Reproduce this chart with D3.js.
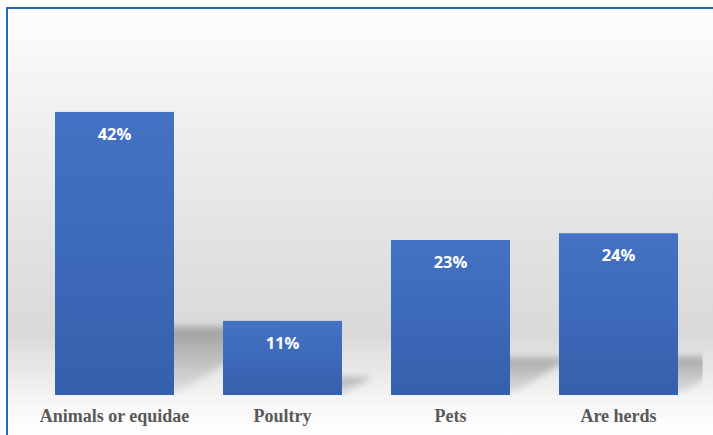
<!DOCTYPE html>
<html>
<head>
<meta charset="utf-8">
<script src="https://cdn.jsdelivr.net/npm/d3@7"></script>
<style>
  html, body { margin: 0; padding: 0; background: #ffffff; }
  svg { display: block; }
</style>
</head>
<body>
<svg id="chart" width="713" height="435"></svg>
<script>
// Share of respondents by animal type
const categories = ["Animals or equidae", "Poultry", "Pets", "Are herds"];
const shares = [42, 11, 23, 24];
const valueLabels = ["42%", "11%", "23%", "24%"];

const W = 713, H = 435;
const svg = d3.select("#chart");
const defs = svg.append("defs");

// Chart background: light at the top, grey band low down, white again under the baseline
const bg = defs.append("linearGradient")
  .attr("id", "bgGrad").attr("gradientUnits", "userSpaceOnUse")
  .attr("x1", 0).attr("x2", 0).attr("y1", 8).attr("y2", H);
[[0, "#fefefe"], [0.25, "#f0f0f0"], [0.55, "#e2e2e2"], [0.76, "#d9d9d9"],
 [0.88, "#eeeeee"], [0.93, "#f8f8f8"], [1, "#ffffff"]]
  .forEach(([o, c]) => bg.append("stop").attr("offset", o).attr("stop-color", c));

// Bar fill
const barGrad = defs.append("linearGradient")
  .attr("id", "barGrad").attr("x1", 0).attr("x2", 0).attr("y1", 0).attr("y2", 1);
barGrad.append("stop").attr("offset", 0).attr("stop-color", "#4472c4");
barGrad.append("stop").attr("offset", 1).attr("stop-color", "#3560ad");

// Perspective shadow fill, fading towards the floor
const shGrad = defs.append("linearGradient")
  .attr("id", "shGrad").attr("x1", 0).attr("x2", 0).attr("y1", 0).attr("y2", 1);
shGrad.append("stop").attr("offset", 0).attr("stop-color", "#000").attr("stop-opacity", 0.26);
shGrad.append("stop").attr("offset", 1).attr("stop-color", "#000").attr("stop-opacity", 0.06);

defs.append("filter").attr("id", "soft")
  .attr("x", "-20%").attr("y", "-30%").attr("width", "140%").attr("height", "160%")
  .append("feGaussianBlur").attr("stdDeviation", 3.5);

const plotLeft = 30.5, plotRight = 702.5, baseline = 395;
defs.append("clipPath").attr("id", "plotClip")
  .append("rect").attr("x", plotLeft).attr("y", 0)
  .attr("width", plotRight - plotLeft).attr("height", baseline);

// Frame with background
svg.append("rect")
  .attr("x", 7).attr("y", 8).attr("width", W + 20).attr("height", H + 20)
  .attr("fill", "url(#bgGrad)")
  .attr("stroke", "#1f6db3").attr("stroke-width", 2);

const x = d3.scaleBand()
  .domain(categories)
  .range([plotLeft, plotRight])
  .paddingInner(49 / 168)
  .paddingOuter(24.5 / 168);

const y = d3.scaleLinear().domain([0, 50]).range([baseline, baseline - 50 * 6.74]);

const data = categories.map((c, i) => ({ cat: c, v: shares[i], label: valueLabels[i] }));

// Shadows cast up and to the right of each bar
const shadowScale = 0.24, shadowSkew = 1.63;
svg.append("g").attr("clip-path", "url(#plotClip)")
  .selectAll("path").data(data).join("path")
  .attr("d", d => {
    const x0 = x(d.cat), x1 = x0 + x.bandwidth();
    const hs = (y(0) - y(d.v)) * shadowScale, s = hs * shadowSkew;
    return `M${x0},${y(0)} L${x1},${y(0)} L${x1 + s},${y(0) - hs} L${x0 + s},${y(0) - hs} Z`;
  })
  .attr("fill", "url(#shGrad)")
  .attr("filter", "url(#soft)");

// Bars
svg.append("g").selectAll("rect").data(data).join("rect")
  .attr("x", d => x(d.cat))
  .attr("y", d => y(d.v))
  .attr("width", x.bandwidth())
  .attr("height", d => y(0) - y(d.v))
  .attr("fill", "url(#barGrad)");

// Values inside the bars
svg.append("g").selectAll("text").data(data).join("text")
  .attr("x", d => x(d.cat) + x.bandwidth() / 2)
  .attr("y", d => y(d.v) + 28)
  .attr("text-anchor", "middle")
  .attr("fill", "#ffffff")
  .attr("font-family", "'Open Sans', sans-serif")
  .attr("font-weight", 700)
  .attr("font-size", "16.5px")
  .text(d => d.label);

// Category axis labels
const xAxis = svg.append("g")
  .attr("transform", `translate(0,${baseline})`)
  .call(d3.axisBottom(x).tickSize(0).tickPadding(0));
xAxis.select(".domain").remove();
xAxis.selectAll("text")
  .attr("dy", null)
  .attr("y", 27)
  .attr("fill", "#595959")
  .attr("font-family", "'Liberation Serif', 'Times New Roman', serif")
  .attr("font-weight", 700)
  .attr("font-size", "18px");
</script>
</body>
</html>
